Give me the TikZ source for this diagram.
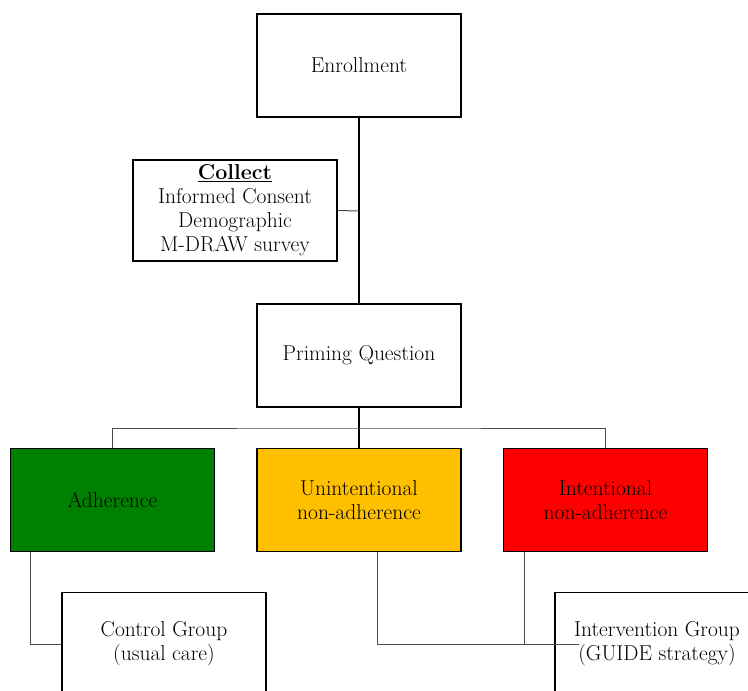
\documentclass[tikz,border=0pt]{standalone}
\usepackage{xcolor}
\definecolor{adhgreen}{HTML}{008000}
\definecolor{unamber}{HTML}{FFC000}
\definecolor{intred}{HTML}{FF0000}
\begin{document}
\begin{tikzpicture}[x=1pt,y=-1pt,
  box/.style={draw=black,line width=1.8pt,minimum width=204pt,minimum height=103pt,
    align=center,inner sep=2pt,font=\fontsize{21.5}{24}\selectfont},
  conn/.style={line width=1pt,draw=black!70},
  trunk/.style={line width=1.1pt,draw=black}]
\useasboundingbox (0,0) rectangle (748,691);
\clip (0,0) rectangle (748,691);
\node[box] (enr) at (359,65.5) {Enrollment};
\node[box,minimum height=101pt] (col) at (235,210.5) {\underline{\textbf{Collect}}\\Informed Consent\\Demographic\\M-DRAW survey};
\node[box] (prime) at (359,355.5) {Priming Question};
\node[box,fill=adhgreen] (adh) at (112.5,500) {Adherence};
\node[box,fill=unamber] (unint) at (359,500) {Unintentional\\non-adherence};
\node[box,fill=intred] (intent) at (605.5,500) {Intentional\\non-adherence};
\node[box] (ctrl) at (164,644) {Control Group\\(usual care)};
\node[box] (interv) at (657,644) {Intervention Group\\(GUIDE strategy)};
\coordinate (join) at (359,211);
\coordinate (bus) at (359,428);
\coordinate (uend) at (579,644);
\draw[trunk] (enr.south) -- (prime.north);
\draw[conn] (col.east) -- (join);
\draw[trunk] (prime.south) -- (unint.north);
\draw[conn] (adh.north) |- (bus) -| (intent.north);
\draw[conn] ([xshift=21pt]adh.south west) |- (ctrl.west);
\draw[conn] ([xshift=18pt]unint.south) |- (uend);
\draw[conn] ([xshift=22pt]intent.south west) |- (interv.west);
\end{tikzpicture}
\end{document}
